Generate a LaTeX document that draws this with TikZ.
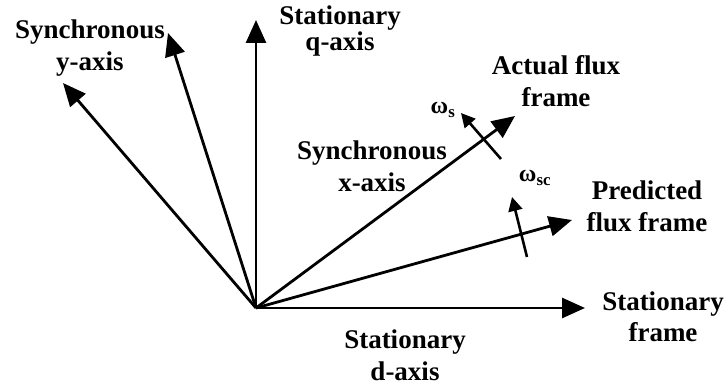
\documentclass[tikz,border=0pt]{standalone}
\usepackage{fontspec}
\setmainfont{Liberation Serif}
\usetikzlibrary{arrows.meta}
\begin{document}
\begin{tikzpicture}[x=1pt,y=-1pt,
  axislbl/.style={inner sep=0pt,outer sep=0pt,anchor=base,align=center,font=\bfseries\fontsize{27}{32}\selectfont},
  ratelbl/.style={inner sep=0pt,outer sep=0pt,anchor=base,font=\bfseries\fontsize{24}{28}\selectfont},
  axisarrow/.style={draw=black,line width=2.8pt,-{Triangle[length=23pt,width=20pt]}},
  ratearrow/.style={draw=black,line width=2.6pt,-{Triangle[length=14pt,width=14pt]}}]
\path[use as bounding box] (0,0) rectangle (724,390);
\path[fill=white,draw=none] (0,0) rectangle (724,390);
% common origin and arrow tips
\coordinate (O) at (256,308);
\coordinate (dtip) at (585,308);
\coordinate (qtip) at (256,20);
\coordinate (mtip) at (168,33);
\coordinate (ytip) at (63,83);
\coordinate (xtip) at (515,116);
\coordinate (ptip) at (572,220);
\coordinate (wstail) at (501,159);
\coordinate (wstip) at (461,113);
\coordinate (wsctail) at (527,257);
\coordinate (wsctip) at (512,197);
% labels (anchored at the baseline of their last line)
\node[axislbl] (ylbl) at (90,71) {Synchronous\\y-axis};
\node[axislbl,font=\bfseries\fontsize{27}{26}\selectfont] (qlbl) at (340,51) {Stationary\\q-axis};
\node[axislbl] (actlbl) at (556,107) {Actual flux\\frame};
\node[axislbl] (xlbl) at (372,192) {Synchronous\\x-axis};
\node[axislbl] (predlbl) at (647,232) {Predicted\\flux frame};
\node[axislbl] (framelbl) at (663,342) {Stationary\\frame};
\node[axislbl] (dlbl) at (405,381) {Stationary\\d-axis};
\node[ratelbl] (wslbl) at (443,114) {ω\textsubscript{s}};
\node[ratelbl] (wsclbl) at (535,182) {ω\textsubscript{sc}};
% axes
\draw[axisarrow] (O) -- (dtip);
\draw[axisarrow] (O) -- (qtip);
\draw[axisarrow] (O) -- (mtip);
\draw[axisarrow] (O) -- (ytip);
\draw[axisarrow] (O) -- (xtip);
\draw[axisarrow] (O) -- (ptip);
% rotation of the frames
\draw[ratearrow] (wstail) -- (wstip);
\draw[ratearrow] (wsctail) -- (wsctip);
\end{tikzpicture}
\end{document}
